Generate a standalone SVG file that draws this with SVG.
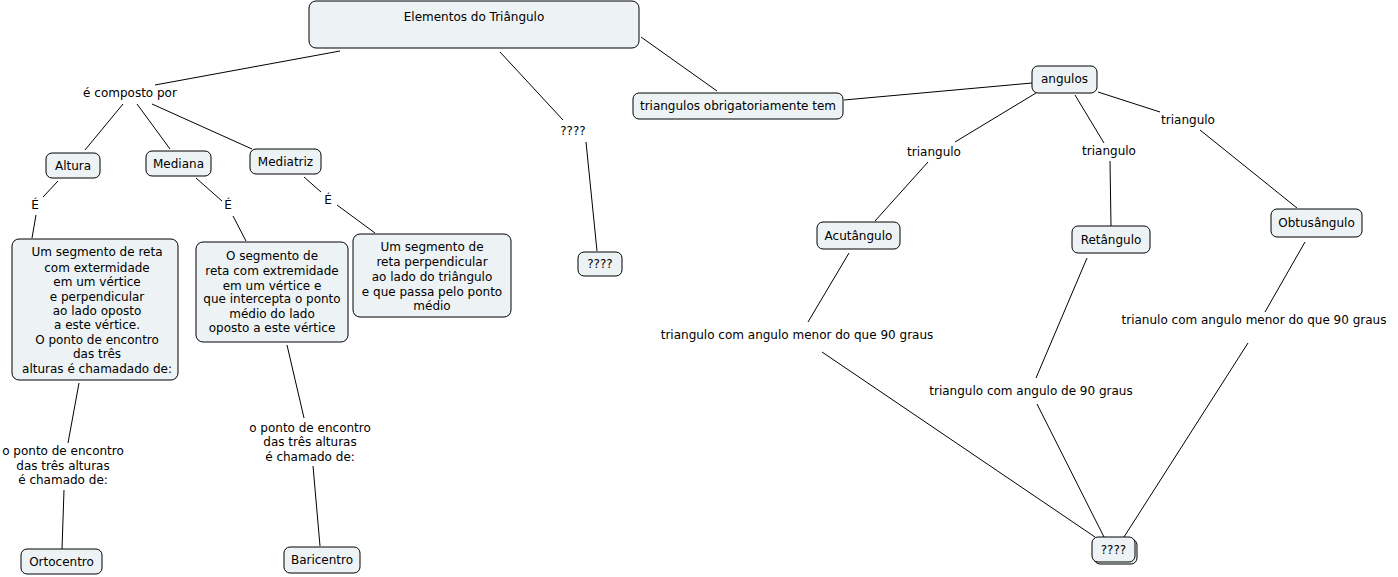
<svg xmlns="http://www.w3.org/2000/svg" width="1398" height="577" viewBox="0 0 1398 577">
<style>
.n rect{fill:#edf3f4;stroke:#000;stroke-width:1}
text{font-family:"DejaVu Sans","Liberation Sans",sans-serif;font-size:12px;fill:#000;text-anchor:middle}
#connectors line{stroke:#000;stroke-width:1}
</style>
<rect x="0" y="0" width="1398" height="577" fill="#fff"/>
<g id="connectors">
<line x1="340" y1="51" x2="155" y2="85"/>
<line x1="123" y1="104" x2="85" y2="150"/>
<line x1="137" y1="104" x2="170" y2="149"/>
<line x1="152" y1="104" x2="252" y2="149"/>
<line x1="58" y1="181" x2="43" y2="197"/>
<line x1="36" y1="215" x2="32" y2="238"/>
<line x1="196" y1="178" x2="222" y2="201"/>
<line x1="233" y1="216" x2="246" y2="241"/>
<line x1="304" y1="177" x2="321" y2="192"/>
<line x1="337" y1="205" x2="375" y2="233"/>
<line x1="79" y1="383" x2="68" y2="443"/>
<line x1="64" y1="490" x2="62" y2="549"/>
<line x1="287" y1="345" x2="304" y2="418"/>
<line x1="313" y1="466" x2="320" y2="546"/>
<line x1="500" y1="52" x2="563" y2="120"/>
<line x1="586" y1="142" x2="597" y2="251"/>
<line x1="641" y1="37" x2="717" y2="91"/>
<line x1="844" y1="100" x2="1032" y2="83"/>
<line x1="1036" y1="93" x2="955" y2="142"/>
<line x1="928" y1="162" x2="875" y2="221"/>
<line x1="1075" y1="95" x2="1104" y2="143"/>
<line x1="1110" y1="161" x2="1111" y2="226"/>
<line x1="1098" y1="92" x2="1160" y2="112"/>
<line x1="1200" y1="130" x2="1297" y2="208"/>
<line x1="849" y1="253" x2="808" y2="322"/>
<line x1="822" y1="352" x2="1095" y2="537"/>
<line x1="1087" y1="258" x2="1036" y2="378"/>
<line x1="1037" y1="404" x2="1104" y2="537"/>
<line x1="1305" y1="242" x2="1265" y2="312"/>
<line x1="1248" y1="343" x2="1124" y2="537"/>
</g>
<g id="labels">
<text x="130" y="97">é composto por</text>
<text x="35" y="209">É</text>
<text x="228" y="209">É</text>
<text x="328" y="204">É</text>
<text x="573" y="135">????</text>
<text x="63" y="455">o ponto de encontro</text>
<text x="63" y="470">das três alturas</text>
<text x="63" y="484">é chamado de:</text>
<text x="310" y="432">o ponto de encontro</text>
<text x="310" y="446">das três alturas</text>
<text x="310" y="461">é chamado de:</text>
<text x="934" y="156">triangulo</text>
<text x="1109" y="155">triangulo</text>
<text x="1188" y="124">triangulo</text>
<text x="797" y="339">triangulo com angulo menor do que 90 graus</text>
<text x="1031" y="395">triangulo com angulo de 90 graus</text>
<text x="1254" y="324">trianulo com angulo menor do que 90 graus</text>
</g>
<g id="n-elementos" class="n"><rect x="309" y="1" width="330" height="47" rx="7"/><text x="474" y="21">Elementos do Triângulo</text></g>
<g id="n-altura" class="n"><rect x="46" y="153" width="54" height="25" rx="6"/><text x="73" y="170">Altura</text></g>
<g id="n-mediana" class="n"><rect x="146" y="151" width="65" height="25" rx="6"/><text x="178.5" y="168">Mediana</text></g>
<g id="n-mediatriz" class="n"><rect x="250" y="149" width="71" height="25" rx="6"/><text x="285.5" y="166">Mediatriz</text></g>
<g id="n-altura-desc" class="n"><rect x="12" y="239" width="166" height="141" rx="7"/>
<text x="97" y="256">Um segmento de reta</text>
<text x="97" y="272">com extermidade</text>
<text x="97" y="286">em um vértice</text>
<text x="97" y="301">e perpendicular</text>
<text x="97" y="315">ao lado oposto</text>
<text x="97" y="329">a este vértice.</text>
<text x="97" y="344">O ponto de encontro</text>
<text x="97" y="358">das três</text>
<text x="97" y="373">alturas é chamadado de:</text>
</g>
<g id="n-mediana-desc" class="n"><rect x="196" y="242" width="152" height="100" rx="7"/>
<text x="272" y="260">O segmento de</text>
<text x="272" y="275">reta com extremidade</text>
<text x="272" y="290">em um vértice e</text>
<text x="272" y="303">que intercepta o ponto</text>
<text x="272" y="318">médio do lado</text>
<text x="272" y="332">oposto a este vértice</text>
</g>
<g id="n-mediatriz-desc" class="n"><rect x="353" y="234" width="158" height="83" rx="7"/>
<text x="432" y="251">Um segmento de</text>
<text x="432" y="266">reta perpendicular</text>
<text x="432" y="281">ao lado do triângulo</text>
<text x="432" y="296">e que passa pelo ponto</text>
<text x="432" y="310">médio</text>
</g>
<g id="n-q1" class="n"><rect x="578" y="252" width="44" height="24" rx="6"/><text x="600" y="268">????</text></g>
<g id="n-ortocentro" class="n"><rect x="21" y="549" width="81" height="25" rx="6"/><text x="61.5" y="566">Ortocentro</text></g>
<g id="n-baricentro" class="n"><rect x="284" y="547" width="76" height="26" rx="6"/><text x="322" y="564">Baricentro</text></g>
<g id="n-tem" class="n"><rect x="633" y="93" width="210" height="26" rx="6"/><text x="738" y="110">triangulos obrigatoriamente tem</text></g>
<g id="n-angulos" class="n"><rect x="1032" y="66" width="65" height="27" rx="6"/><text x="1064.5" y="83">angulos</text></g>
<g id="n-acut" class="n"><rect x="817" y="222" width="83" height="27" rx="6"/><text x="858.5" y="240">Acutângulo</text></g>
<g id="n-ret" class="n"><rect x="1072" y="226" width="78" height="27" rx="6"/><text x="1111" y="244">Retângulo</text></g>
<g id="n-obt" class="n"><rect x="1271" y="209" width="91" height="28" rx="6"/><text x="1316.5" y="227">Obtusângulo</text></g>
<g id="n-q2" class="n"><rect x="1094" y="539" width="43" height="25" rx="6"/><rect x="1092" y="537" width="43" height="25" rx="6"/><text x="1113.5" y="554">????</text></g>
</svg>
